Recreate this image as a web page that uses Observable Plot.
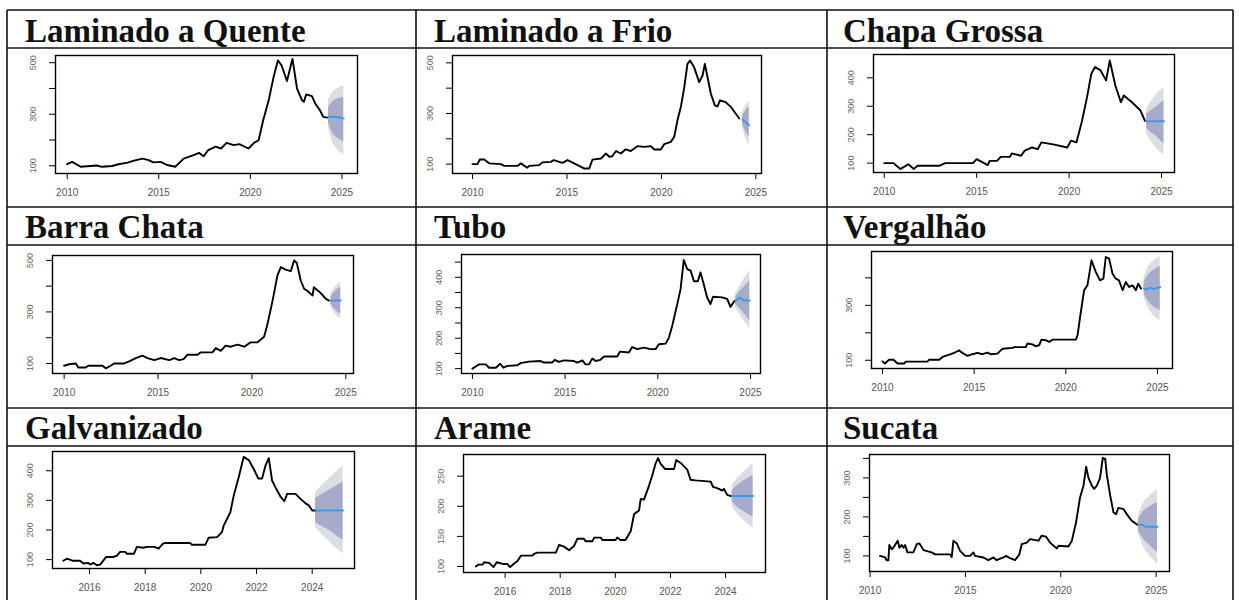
<!DOCTYPE html>
<html><head><meta charset="utf-8">
<script src="https://cdn.jsdelivr.net/npm/d3@7"></script>
<script src="https://cdn.jsdelivr.net/npm/@observablehq/plot@0.6"></script>
<style>
body{margin:0;background:#fff;}
#page{position:relative;width:1239px;height:600px;overflow:hidden;background:#fff;}
#grid{position:absolute;left:0;top:0;}
.panel{position:absolute;}
.panel svg{overflow:visible;}
</style></head>
<body><div id="page"><svg id="grid" width="1239" height="600"></svg></div>
<script>
// ---------- DATA ----------
const titles = ["Laminado a Quente","Laminado a Frio","Chapa Grossa","Barra Chata","Tubo","Vergalhão","Galvanizado","Arame","Sucata"];

const xTicks5 = [2010, 2015, 2020, 2025];
const xTicks2 = [2016, 2018, 2020, 2022, 2024];

// history series: [year, value]
const lqHist = [[2010.0,106],[2010.27,115],[2010.73,96],[2011.27,99],[2011.6,101],[2011.9,96],[2012.45,99],[2012.8,106],[2013.3,112],[2013.6,119],[2014.1,128],[2014.45,122],[2014.7,113],[2015.1,115],[2015.45,103],[2015.9,96],[2016.36,128],[2016.9,141],[2017.2,150],[2017.45,137],[2017.7,161],[2018.1,174],[2018.4,167],[2018.7,189],[2019.1,180],[2019.4,184],[2019.9,167],[2020.2,189],[2020.45,199],[2020.7,277],[2021.0,354],[2021.27,445],[2021.5,509],[2021.7,490],[2022.0,429],[2022.3,515],[2022.55,399],[2022.82,354],[2022.92,348],[2023.05,377],[2023.36,370],[2023.55,341],[2023.8,315],[2023.98,290],[2024.2,287]];
const lfHist = [[2010.0,100],[2010.26,100],[2010.39,118],[2010.62,118],[2010.88,103],[2011.5,100],[2011.68,93],[2012.38,93],[2012.56,103],[2012.9,86],[2013.0,93],[2013.53,96],[2013.7,107],[2014.15,109],[2014.3,116],[2014.76,105],[2015.03,116],[2015.38,103],[2015.9,83],[2016.18,83],[2016.35,118],[2016.8,122],[2017.06,142],[2017.24,129],[2017.4,131],[2017.6,152],[2017.85,142],[2018.1,158],[2018.38,152],[2018.73,171],[2019.1,168],[2019.44,171],[2019.62,158],[2019.97,158],[2020.15,179],[2020.5,188],[2020.68,208],[2020.85,273],[2021.03,326],[2021.2,398],[2021.38,496],[2021.52,509],[2021.73,483],[2022.0,424],[2022.18,450],[2022.3,496],[2022.44,444],[2022.62,378],[2022.83,332],[2022.97,328],[2023.1,352],[2023.4,345],[2023.68,326],[2023.94,299],[2024.12,280]];
const cgHist = [[2010.0,100],[2010.5,100],[2010.87,79],[2011.3,96],[2011.6,79],[2011.8,91],[2013.0,91],[2013.3,100],[2014.8,100],[2015.0,114],[2015.6,93],[2015.7,108],[2016.1,108],[2016.3,122],[2016.8,122],[2016.9,134],[2017.4,126],[2017.6,144],[2018.0,155],[2018.3,149],[2018.5,173],[2019.2,165],[2019.9,155],[2020.1,179],[2020.4,173],[2020.7,249],[2020.97,332],[2021.2,414],[2021.4,438],[2021.7,426],[2022.0,391],[2022.2,461],[2022.5,373],[2022.8,314],[2022.96,338],[2023.4,314],[2023.86,285],[2024.1,249]];
const bcHist = [[2010.0,91],[2010.27,97],[2010.62,100],[2010.75,84],[2011.15,84],[2011.28,91],[2012.04,91],[2012.22,81],[2012.48,91],[2012.66,100],[2013.2,100],[2013.46,108],[2013.82,121],[2014.17,130],[2014.44,121],[2014.8,113],[2015.15,121],[2015.6,113],[2015.86,121],[2016.12,113],[2016.36,117],[2016.57,134],[2017.1,134],[2017.28,143],[2017.9,143],[2018.08,160],[2018.34,149],[2018.6,169],[2018.88,165],[2019.23,173],[2019.59,165],[2019.94,182],[2020.3,182],[2020.65,204],[2020.83,253],[2021.1,344],[2021.36,442],[2021.54,474],[2021.8,464],[2022.07,458],[2022.25,500],[2022.39,490],[2022.6,422],[2022.78,390],[2022.96,381],[2023.23,364],[2023.3,396],[2023.67,373],[2023.94,351],[2024.1,344]];
const tuHist = [[2010.0,100],[2010.18,107],[2010.36,114],[2010.72,114],[2010.9,103],[2011.26,103],[2011.5,116],[2011.67,103],[2011.89,109],[2012.42,111],[2012.6,118],[2013.05,123],[2013.68,125],[2013.86,120],[2014.3,120],[2014.44,129],[2014.67,122],[2014.94,127],[2015.48,125],[2015.66,120],[2015.93,127],[2016.1,114],[2016.29,114],[2016.47,133],[2016.65,125],[2016.9,129],[2017.1,140],[2017.81,140],[2017.96,156],[2018.44,153],[2018.62,171],[2018.89,164],[2019.25,169],[2019.6,164],[2019.88,164],[2020.06,180],[2020.42,182],[2020.6,202],[2020.78,241],[2021.05,312],[2021.23,362],[2021.4,457],[2021.59,427],[2021.77,422],[2021.95,387],[2022.16,387],[2022.3,416],[2022.45,384],[2022.66,334],[2022.84,312],[2022.98,336],[2023.47,334],[2023.74,329],[2023.92,303],[2024.14,323]];
const vgHist = [[2010.0,96],[2010.13,88],[2010.36,102],[2010.6,102],[2010.82,88],[2011.18,88],[2011.27,95],[2012.45,95],[2012.55,102],[2013.1,102],[2013.27,112],[2013.73,122],[2014.0,130],[2014.18,136],[2014.42,124],[2014.64,116],[2014.9,122],[2015.18,127],[2015.45,122],[2015.73,128],[2015.9,122],[2016.27,124],[2016.45,136],[2016.55,142],[2017.1,145],[2017.18,148],[2017.82,148],[2017.9,161],[2018.18,158],[2018.36,151],[2018.55,155],[2018.67,175],[2018.9,173],[2019.1,167],[2019.27,175],[2020.55,175],[2020.64,191],[2020.78,258],[2021.0,355],[2021.18,373],[2021.4,464],[2021.64,421],[2021.87,391],[2022.05,397],[2022.18,476],[2022.36,470],[2022.55,415],[2022.73,397],[2022.9,391],[2023.1,355],[2023.27,385],[2023.45,367],[2023.64,373],[2023.82,355],[2023.95,379],[2024.1,361]];
const gaHist = [[2015.06,96],[2015.18,103],[2015.3,100],[2015.4,96],[2015.66,96],[2015.78,87],[2015.96,89],[2016.02,83],[2016.14,89],[2016.26,81],[2016.38,83],[2016.6,109],[2016.86,109],[2016.98,113],[2017.1,126],[2017.28,126],[2017.34,120],[2017.6,120],[2017.7,143],[2017.94,140],[2018.06,143],[2018.33,143],[2018.48,137],[2018.64,154],[2018.72,156],[2019.62,156],[2019.68,150],[2020.16,150],[2020.28,174],[2020.58,176],[2020.76,193],[2020.82,215],[2021.06,260],[2021.18,316],[2021.36,378],[2021.54,447],[2021.72,436],[2021.9,406],[2022.06,374],[2022.2,374],[2022.32,417],[2022.44,443],[2022.56,367],[2022.68,344],[2022.86,313],[2023.0,297],[2023.1,322],[2023.4,322],[2023.58,305],[2023.76,290],[2023.88,283],[2024.0,266],[2024.12,266]];
const arHist = [[2014.94,100],[2015.02,103],[2015.18,103],[2015.24,107],[2015.42,106],[2015.58,99],[2015.7,107],[2015.94,104],[2016.08,104],[2016.18,99],[2016.33,105],[2016.45,109],[2016.57,118],[2016.99,118],[2017.05,121],[2017.17,123],[2017.84,123],[2017.96,136],[2018.14,133],[2018.32,127],[2018.5,134],[2018.62,146],[2018.86,146],[2018.92,142],[2019.17,142],[2019.23,148],[2019.47,148],[2019.53,144],[2020.01,144],[2020.07,148],[2020.19,144],[2020.37,144],[2020.56,159],[2020.68,187],[2020.86,193],[2020.92,212],[2021.04,211],[2021.22,234],[2021.34,251],[2021.46,271],[2021.55,280],[2021.64,271],[2021.8,262],[2022.13,262],[2022.21,277],[2022.37,272],[2022.61,261],[2022.73,244],[2022.91,243],[2023.46,241],[2023.55,232],[2023.64,231],[2023.76,229],[2023.88,226],[2023.94,229],[2024.06,219],[2024.2,217]];
const suHist = [[2010.52,100],[2010.79,96],[2010.87,89],[2010.96,89],[2011.01,128],[2011.14,117],[2011.22,121],[2011.36,132],[2011.45,139],[2011.54,121],[2011.66,128],[2011.75,121],[2011.84,128],[2011.96,109],[2012.27,109],[2012.45,130],[2012.59,132],[2012.8,115],[2013.23,109],[2013.41,104],[2014.2,104],[2014.28,97],[2014.37,139],[2014.55,132],[2014.72,113],[2014.98,100],[2015.24,100],[2015.42,109],[2015.5,100],[2015.94,96],[2016.2,89],[2016.47,96],[2016.64,89],[2016.99,96],[2017.13,100],[2017.34,94],[2017.6,89],[2017.83,104],[2017.95,130],[2018.22,134],[2018.39,143],[2018.83,139],[2019.0,152],[2019.23,149],[2019.44,134],[2019.79,119],[2019.88,126],[2020.4,124],[2020.58,139],[2020.8,186],[2021.01,250],[2021.19,280],[2021.33,329],[2021.45,300],[2021.63,280],[2021.75,272],[2021.89,280],[2022.06,300],[2022.2,351],[2022.33,349],[2022.41,309],[2022.59,255],[2022.76,212],[2022.9,207],[2023.02,223],[2023.29,220],[2023.46,207],[2023.72,190],[2024.02,180]];

// forecasts: [year, mean, lo80, hi80, lo95, hi95]
const lqFc = [[2024.27,290,264,328,244,354],[2024.5,290,225,348,190,385],[2024.8,288,205,360,160,400],[2025.1,283,193,366,141,412]];
const lfFc = [[2024.29,276,260,286,247,299],[2024.47,265,227,312,201,332],[2024.65,253,208,326,175,345]];
const cgFc = [[2024.19,247,222,272,202,291],[2024.45,247,208,286,175,318],[2024.68,247,196,296,155,338],[2025.13,247,167,320,129,365]];
const bcFc = [[2024.2,344,331,357,318,370],[2024.47,344,306,382,290,400],[2024.73,344,292,396,273,416]];
const tuFc = [[2024.19,323,312,334,301,345],[2024.4,334,298,352,280,370],[2024.6,325,285,365,263,389],[2024.96,323,257,389,230,422]];
const vgFc = [[2024.27,361,342,385,330,403],[2024.4,357,325,400,305,425],[2024.6,364,307,418,280,448],[2024.8,359,295,428,262,462],[2025.0,364,287,437,250,472],[2025.15,367,282,442,245,478]];
const gaFc = [[2024.12,266,225,306,209,326],[2024.35,266,212,320,185,350],[2024.6,266,199,333,163,372],[2024.85,266,182,348,140,395],[2025.11,266,165,361,120,417]];
const arFc = [[2024.24,217,208,226,200,234],[2024.42,217,199,234,188,246],[2024.6,217,193,240,179,254],[2024.8,217,187,246,171,263],[2025.0,217,182,251,164,271]];
const suFc = [[2024.07,180,164,194,156,203],[2024.3,180,146,212,128,232],[2024.42,175,138,218,116,242],[2024.6,175,130,224,104,250],[2024.85,175,118,232,90,262],[2025.07,175,109,237,77,269]];

// y ticks and which ones carry labels
const yTicksLQ = [100,200,300,400,500], yLabLQ = [100,300,500];
const yTicksCG = [100,200,300,400],     yLabCG = [100,200,300,400];
const yTicksTU = [100,150,200,250,300,350,400,450], yLabTU = [100,200,300,400];
const yTicksVG = [100,200,300,400],     yLabVG = [100,300];
const yTicksAR = [100,150,200,250],     yLabAR = [100,150,200,250];
const yTicksSU = [100,150,200,250,300,350], yLabSU = [100,200,300];

// ---------- LAYOUT ----------
const panels = [
  {hist: lqHist, fc: lqFc, xt: xTicks5, yt: yTicksLQ, yl: yLabLQ, xd: [2009.36,2025.85], yd: [70,528], box: [55,55,357,173]},
  {hist: lfHist, fc: lfFc, xt: xTicks5, yt: yTicksLQ, yl: yLabLQ, xd: [2008.94,2025.3], yd: [63,529], box: [452,55,761,173]},
  {hist: cgHist, fc: cgFc, xt: xTicks5, yt: yTicksCG, yl: yLabCG, xd: [2009.42,2025.7], yd: [67,482], box: [873,54,1174,172]},
  {hist: bcHist, fc: bcFc, xt: xTicks5, yt: yTicksLQ, yl: yLabLQ, xd: [2009.38,2025.41], yd: [61,519], box: [52,255,353,373]},
  {hist: tuHist, fc: tuFc, xt: xTicks5, yt: yTicksTU, yl: yLabTU, xd: [2009.41,2025.54], yd: [84,475], box: [461,254,760,373]},
  {hist: vgHist, fc: vgFc, xt: xTicks5, yt: yTicksVG, yl: yLabVG, xd: [2009.4,2025.82], yd: [70,496], box: [871,251,1172,368]},
  {hist: gaHist, fc: gaFc, xt: xTicks2, yt: yTicksCG, yl: yLabCG, xd: [2014.67,2025.52], yd: [70,465], box: [52,451,354,568]},
  {hist: arHist, fc: arFc, xt: xTicks2, yt: yTicksAR, yl: yLabAR, xd: [2014.49,2025.45], yd: [90,286], box: [463,454,765,572]},
  {hist: suHist, fc: suFc, xt: xTicks5, yt: yTicksSU, yl: yLabSU, xd: [2009.97,2025.7], yd: [60,360], box: [869,454,1169,571]}
];

// grid lines + titles
const NS = "http://www.w3.org/2000/svg";
const grid = document.getElementById("grid");
function el(tag, attrs, text){const e=document.createElementNS(NS,tag);for(const k in attrs)e.setAttribute(k,attrs[k]);if(text!=null)e.textContent=text;grid.appendChild(e);return e;}
const colX = [7, 416, 827, 1233];
const rowY = [10, 48, 207, 245, 408, 446];
colX.forEach(x => el("line",{x1:x,x2:x,y1:rowY[0],y2:600,stroke:"#111","stroke-width":1.6}));
rowY.forEach(y => el("line",{x1:colX[0],x2:colX[3],y1:y,y2:y,stroke:"#111","stroke-width":1.6}));
const titleX = [25, 434, 843], titleBase = [42, 238, 439];
titles.forEach((t,i) => el("text",{x:titleX[i%3],y:titleBase[Math.floor(i/3)],"font-family":"Liberation Serif, serif","font-weight":"bold","font-size":33,fill:"#111"},t));

// charts
const page = document.getElementById("page");
const mL = 40, mT = 8, mR = 8, mB = 32;
panels.forEach(p => {
  const [x0,y0,x1,y1] = p.box;
  const hist = p.hist.map(([t,v]) => ({t, v}));
  const fc = p.fc.map(r => ({t:r[0], m:r[1], l80:r[2], h80:r[3], l95:r[4], h95:r[5]}));
  const chart = Plot.plot({
    width: x1 - x0 + mL + mR,
    height: y1 - y0 + mT + mB,
    marginLeft: mL, marginTop: mT, marginRight: mR, marginBottom: mB,
    x: {domain: p.xd},
    y: {domain: p.yd},
    style: {fontFamily: "Liberation Sans, Arial, sans-serif", background: "transparent", overflow: "visible"},
    marks: [
      Plot.areaY(fc, {x: "t", y1: "l95", y2: "h95", fill: "#dcdce3", curve: "monotone-x"}),
      Plot.areaY(fc, {x: "t", y1: "l80", y2: "h80", fill: "#a7abca", curve: "monotone-x"}),
      Plot.line(hist, {x: "t", y: "v", stroke: "#000", strokeWidth: 1.9}),
      Plot.line(fc, {x: "t", y: "m", stroke: "#3d9be9", strokeWidth: 2}),
      Plot.frame({stroke: "#000", strokeWidth: 1.4}),
      Plot.axisX({ticks: p.xt, tickSize: 6, tickPadding: 9, fontSize: 10, stroke: "#000", fill: "#555", label: null, tickFormat: d => String(d)}),
      Plot.axisY({ticks: p.yt, tickSize: 6, tickPadding: 14, tickRotate: -90, fontSize: 9, stroke: "#000", fill: "#666", label: null,
                  tickFormat: d => p.yl.includes(d) ? String(d) : ""})
    ]
  });
  const wrap = document.createElement("div");
  wrap.className = "panel";
  wrap.style.left = (x0 - mL) + "px";
  wrap.style.top = (y0 - mT) + "px";
  wrap.appendChild(chart);
  page.appendChild(wrap);
});
</script>
</body></html>
